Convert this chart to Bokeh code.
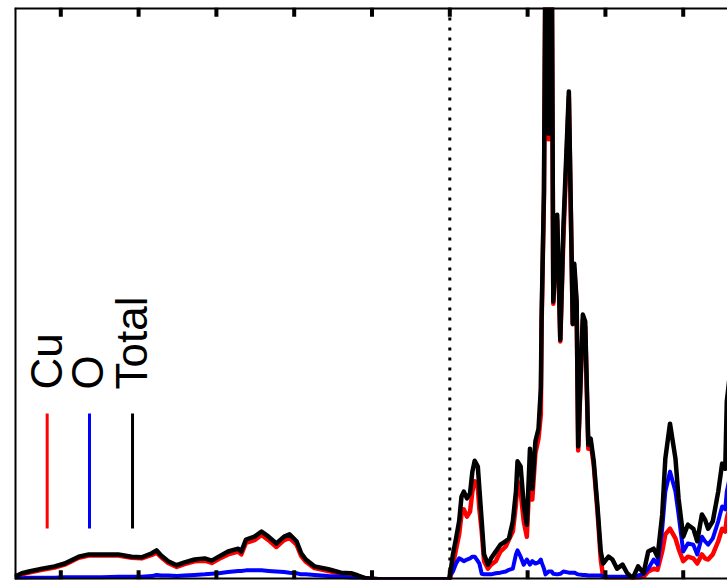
from bokeh.plotting import figure
from bokeh.models import Range1d, Span, Label
from bokeh.embed import file_html
from bokeh.resources import INLINE

# ---- data (energy in eV relative to Fermi level, DOS arbitrary units) ----
energy_valence = [-5.59, -5.50, -5.41, -5.24, -5.08, -4.95, -4.77, -4.64, -4.47, -4.26,
                  -4.09, -3.96, -3.83, -3.77, -3.71, -3.62, -3.51, -3.41, -3.28, -3.15,
                  -3.06, -2.97, -2.85, -2.72, -2.68, -2.62, -2.51, -2.42, -2.33, -2.23,
                  -2.13, -2.06, -1.97, -1.91, -1.85, -1.74, -1.56, -1.40, -1.27, -1.18,
                  -1.08, -0.88, -0.01]
total_valence = [0.05, 0.11, 0.14, 0.19, 0.23, 0.28, 0.40, 0.44, 0.44, 0.44,
                 0.40, 0.39, 0.46, 0.51, 0.42, 0.32, 0.25, 0.30, 0.35, 0.37,
                 0.33, 0.40, 0.49, 0.54, 0.49, 0.70, 0.75, 0.84, 0.75, 0.63,
                 0.75, 0.79, 0.67, 0.46, 0.35, 0.23, 0.18, 0.12, 0.11, 0.07,
                 0.02, 0.00, 0.00]
o_valence = [0.02, 0.02, 0.03, 0.03, 0.03, 0.04, 0.04, 0.04, 0.04, 0.05,
             0.05, 0.05, 0.06, 0.08, 0.07, 0.07, 0.06, 0.07, 0.08, 0.09,
             0.10, 0.11, 0.13, 0.15, 0.15, 0.16, 0.16, 0.16, 0.15, 0.14,
             0.13, 0.12, 0.11, 0.09, 0.09, 0.08, 0.06, 0.05, 0.03, 0.02,
             0.01, 0.00, 0.00]
cu_valence = [0.03, 0.09, 0.12, 0.17, 0.21, 0.26, 0.38, 0.42, 0.42, 0.42,
              0.38, 0.37, 0.43, 0.47, 0.39, 0.29, 0.22, 0.27, 0.32, 0.33,
              0.29, 0.36, 0.44, 0.49, 0.44, 0.64, 0.69, 0.78, 0.69, 0.57,
              0.69, 0.73, 0.61, 0.41, 0.31, 0.20, 0.15, 0.10, 0.09, 0.06,
              0.02, 0.00, 0.00]

energy_conduction = [0.01, 0.04, 0.08, 0.12, 0.15, 0.18, 0.22, 0.26, 0.29, 0.32,
                     0.36, 0.38, 0.41, 0.44, 0.49, 0.53, 0.59, 0.65, 0.72, 0.76,
                     0.81, 0.85, 0.87, 0.91, 0.95, 0.99, 1.03, 1.06, 1.10, 1.14,
                     1.17, 1.18, 1.21, 1.23, 1.27, 1.31, 1.33, 1.38, 1.42, 1.46,
                     1.53, 1.58, 1.60, 1.63, 1.65, 1.71, 1.74, 1.78, 1.81, 1.85,
                     1.90, 1.94, 1.97, 2.04, 2.09, 2.15, 2.22, 2.28, 2.35, 2.42,
                     2.49, 2.55, 2.62, 2.67, 2.73, 2.77, 2.83, 2.90, 2.94, 3.00,
                     3.06, 3.13, 3.18, 3.24, 3.28, 3.32, 3.38, 3.45, 3.50, 3.54,
                     3.56, 3.60]
total_conduction = [0.14, 0.44, 0.72, 1.02, 1.45, 1.54, 1.42, 1.51, 1.89, 2.08,
                    1.98, 1.59, 1.02, 0.44, 0.26, 0.37, 0.49, 0.61, 0.67, 0.72,
                    1.02, 1.54, 2.07, 1.98, 1.31, 0.96, 2.29, 1.59, 2.42, 2.64,
                    3.35, 4.61, 6.80, 11.2, 7.81, 11.2, 4.87, 6.39, 4.20, 6.18,
                    8.55, 4.48, 5.53, 4.87, 2.33, 4.64, 4.52, 2.36, 2.47, 2.07,
                    1.24, 0.49, 0.28, 0.40, 0.35, 0.19, 0.26, 0.11, 0.02, 0.23,
                    0.11, 0.49, 0.54, 0.40, 1.14, 2.12, 2.73, 2.12, 1.42, 0.75,
                    0.96, 0.89, 0.67, 1.14, 1.05, 0.89, 1.02, 1.54, 2.03, 1.94,
                    3.12, 3.60]
cu_conduction = [0.05, 0.25, 0.53, 0.79, 1.14, 1.23, 1.10, 1.19, 1.54, 1.72,
                 1.61, 1.23, 0.84, 0.32, 0.19, 0.26, 0.32, 0.49, 0.58, 0.70,
                 0.84, 1.31, 1.72, 1.54, 1.02, 0.75, 1.94, 1.40, 2.21, 2.47,
                 2.89, 4.50, 6.70, 11.0, 7.71, 11.0, 4.83, 6.30, 4.17, 5.97,
                 8.45, 4.47, 5.43, 4.80, 2.26, 4.55, 4.43, 2.29, 2.40, 2.00,
                 1.15, 0.35, 0.05, 0.03, 0.03, 0.03, 0.03, 0.03, 0.02, 0.03,
                 0.05, 0.14, 0.19, 0.17, 0.49, 0.79, 0.89, 0.72, 0.54, 0.32,
                 0.40, 0.37, 0.28, 0.44, 0.37, 0.35, 0.44, 0.67, 0.89, 0.84,
                 1.07, 1.30]
o_conduction = [0.09, 0.14, 0.28, 0.37, 0.35, 0.32, 0.35, 0.37, 0.40, 0.40,
                0.32, 0.28, 0.10, 0.09, 0.09, 0.09, 0.11, 0.12, 0.14, 0.17,
                0.19, 0.44, 0.51, 0.40, 0.26, 0.35, 0.26, 0.32, 0.28, 0.30,
                0.35, 0.30, 0.19, 0.09, 0.14, 0.14, 0.10, 0.09, 0.10, 0.14,
                0.12, 0.12, 0.12, 0.10, 0.09, 0.08, 0.08, 0.07, 0.07, 0.07,
                0.07, 0.07, 0.05, 0.05, 0.05, 0.05, 0.05, 0.05, 0.05, 0.07,
                0.10, 0.19, 0.35, 0.26, 0.89, 1.54, 1.89, 1.54, 1.14, 0.49,
                0.63, 0.61, 0.44, 0.75, 0.67, 0.61, 0.72, 1.02, 1.28, 1.23,
                1.54, 1.80]

x_ticks = [-5, -4, -3, -2, -1, 0, 1, 2, 3]
fermi_level = 0.0
series_names = ["Cu", "O", "Total"]
series_colors = ["#ff0000", "#0000ff", "#000000"]

energy = energy_valence + energy_conduction
cu = cu_valence + cu_conduction
o = o_valence + o_conduction
total = total_valence + total_conduction

X_MIN, X_MAX = -5.595, 3.569
Y_MIN, Y_MAX = 0.0, 10.02
TICK_LEN = 0.16   # ~9 px inward ticks

p = figure(width=727, height=580, output_backend="svg", toolbar_location=None,
           x_range=Range1d(X_MIN, X_MAX), y_range=Range1d(Y_MIN, Y_MAX),
           min_border_left=14, min_border_right=0, min_border_top=7, min_border_bottom=1,
           background_fill_color="white", border_fill_color="white")
p.outline_line_color = None
p.grid.visible = False
p.axis.visible = False

# data curves
p.line(energy, cu, line_color=series_colors[0], line_width=4.5, line_join="round")
p.line(energy, o, line_color=series_colors[1], line_width=4, line_join="round")
p.line(energy, total, line_color=series_colors[2], line_width=4.5, line_join="round")

# Fermi level
p.add_layout(Span(location=fermi_level, dimension="height", line_color="black",
                  line_width=3, line_dash="3 7"))

# frame (left, bottom, top; right side is cut off)
p.add_layout(Span(location=X_MIN, dimension="height", line_color="black", line_width=4))
p.add_layout(Span(location=Y_MIN, dimension="width", line_color="black", line_width=4))
p.add_layout(Span(location=Y_MAX, dimension="width", line_color="black", line_width=4))

# inward tick marks on bottom and top
p.segment(x0=x_ticks, y0=[Y_MIN] * len(x_ticks), x1=x_ticks, y1=[Y_MIN + TICK_LEN] * len(x_ticks),
          line_color="black", line_width=4)
p.segment(x0=x_ticks, y0=[Y_MAX] * len(x_ticks), x1=x_ticks, y1=[Y_MAX - TICK_LEN] * len(x_ticks),
          line_color="black", line_width=4)

# rotated legend
key_x = [-5.175, -4.631, -4.078]
text_x = [-5.18, -4.66, -4.09]
for name, color, kx, tx in zip(series_names, series_colors, key_x, text_x):
    p.segment(x0=[kx], y0=[0.893], x1=[kx], y1=[2.907], line_color=color, line_width=3)
    p.add_layout(Label(x=tx, y=3.33, text=name, angle=90, angle_units="deg",
                       text_font="Liberation Sans", text_font_size="44px",
                       text_color="black", text_align="left", text_baseline="alphabetic"))

open("out.html", "w").write(file_html(p, INLINE))
